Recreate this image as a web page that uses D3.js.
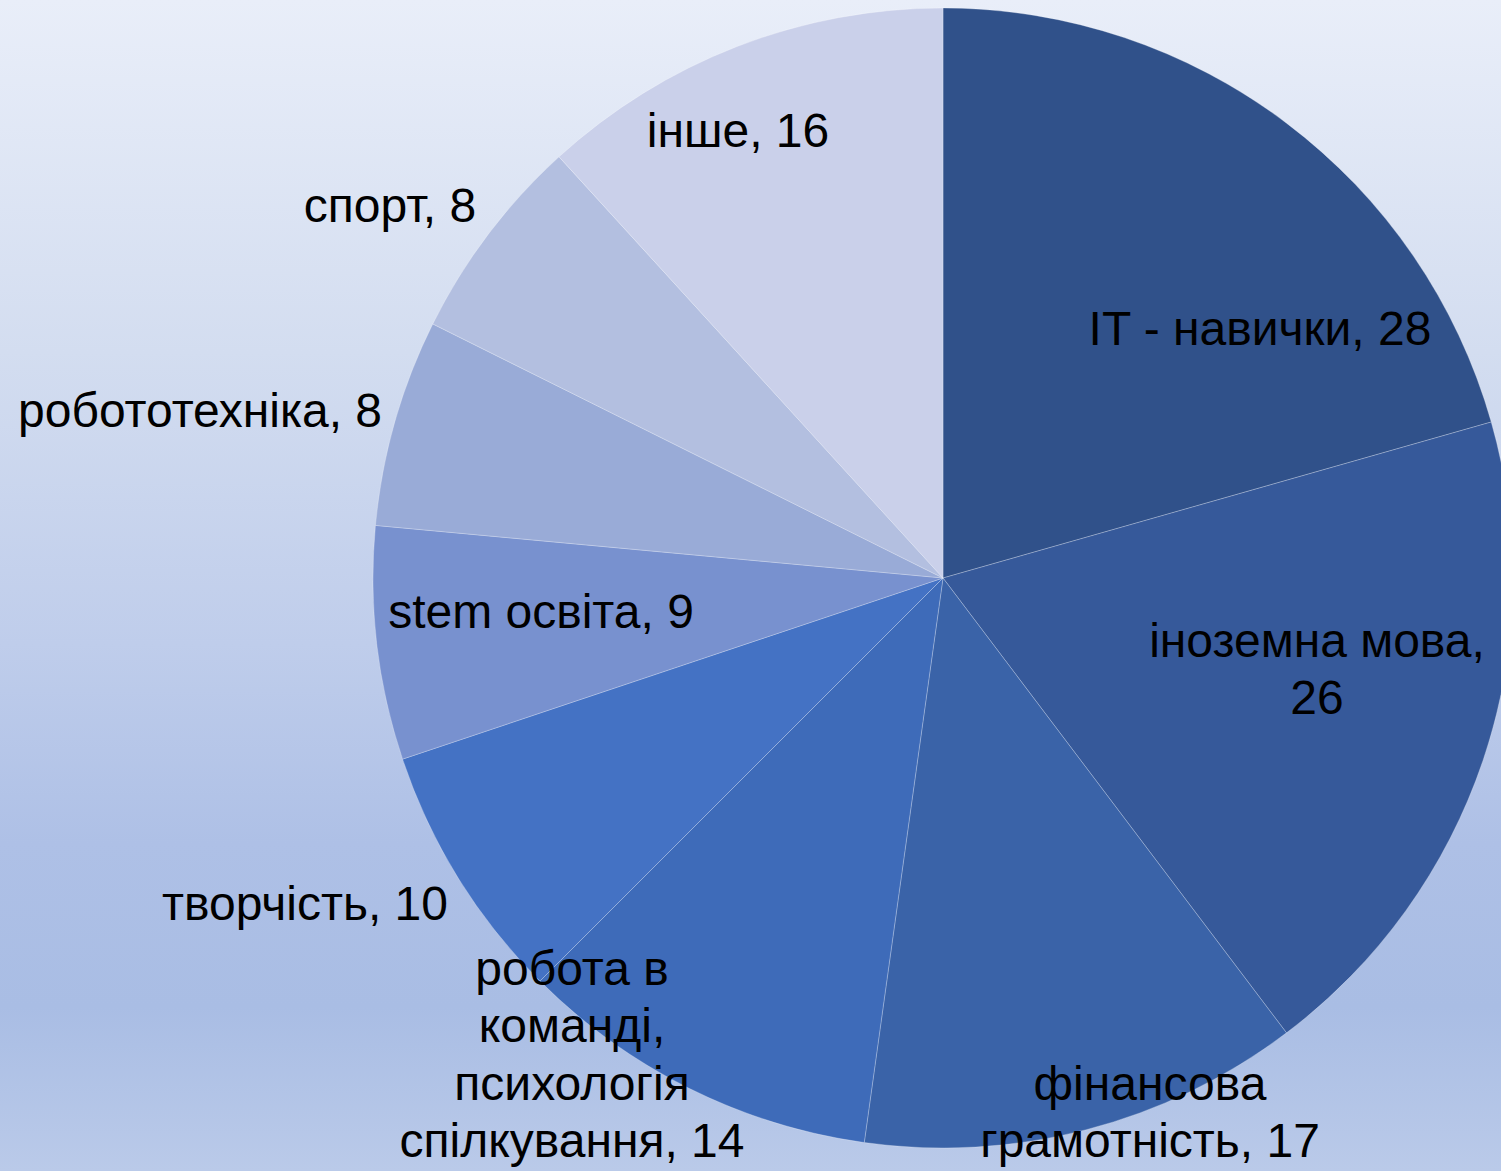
<!DOCTYPE html>
<html>
<head>
<meta charset="utf-8">
<script src="https://cdn.jsdelivr.net/npm/d3@7"></script>
<style>
  html, body { margin: 0; padding: 0; overflow: hidden; }
  svg { display: block; }
</style>
</head>
<body>
<div id="chart"></div>
<script>
// ---- data ----
const categories = ["IT - навички", "іноземна мова", "фінансова грамотність", "робота в команді, психологія спілкування", "творчість", "stem освіта", "робототехніка", "спорт", "інше"];
const values = [28, 26, 17, 14, 10, 9, 8, 8, 16];
// label line breaks (as in the picture)
const labelLines = [
  ["IT - навички, 28"],
  ["іноземна мова,", "26"],
  ["фінансова", "грамотність, 17"],
  ["робота в", "команді,", "психологія", "спілкування, 14"],
  ["творчість, 10"],
  ["stem освіта, 9"],
  ["робототехніка, 8"],
  ["спорт, 8"],
  ["інше, 16"]
];

// ---- layout / style ----
const W = 1501, H = 1171;
const cx = 943, cy = 578, R = 570;
const colors = ["#30518a", "#36599a", "#3a63a8", "#3e6bb9", "#4472c4", "#7891cf", "#99abd7", "#b3bfe0", "#cad0ea"];
// label anchor: centre x, first baseline y (relative to pie centre)
const labelAnchor = [
  [317, -233], [374, 79], [207, 522], [-371, 407], [-638, 342],
  [-402, 50], [-743, -151], [-553, -356], [-205, -431]
];
const fontSize = 48, lineH = 57.3;

const svg = d3.select("#chart").append("svg")
  .attr("width", W).attr("height", H);

const defs = svg.append("defs");
const grad = defs.append("linearGradient").attr("id", "bg")
  .attr("x1", 0).attr("y1", 0).attr("x2", 0).attr("y2", 1);
[[0, "#e9eef9"], [0.3, "#d3ddf0"], [0.55, "#bfcdeb"], [0.72, "#aec0e6"], [0.86, "#a9bde4"], [1, "#bacae9"]]
  .forEach(([o, c]) => grad.append("stop").attr("offset", o).attr("stop-color", c));

svg.append("rect").attr("width", W).attr("height", H).attr("fill", "url(#bg)");

const pie = d3.pie().sort(null).value(d => d);
const arcs = pie(values);
const arc = d3.arc().innerRadius(0).outerRadius(R);

const g = svg.append("g").attr("transform", `translate(${cx},${cy})`);
g.selectAll("path.slice").data(arcs).enter().append("path")
  .attr("class", "slice")
  .attr("d", arc)
  .attr("fill", (d, i) => colors[i])
  .attr("stroke", "rgba(255,255,255,0.35)")
  .attr("stroke-width", 0.75);

const labels = g.selectAll("text.lbl").data(arcs).enter().append("text")
  .attr("class", "lbl")
  .attr("text-anchor", "middle")
  .attr("font-family", "Liberation Sans, Arial, sans-serif")
  .attr("font-size", fontSize)
  .attr("fill", "#000")
  .attr("x", (d, i) => labelAnchor[i][0])
  .attr("y", (d, i) => labelAnchor[i][1]);

labels.each(function (d, i) {
  const t = d3.select(this);
  labelLines[i].forEach((line, k) => {
    t.append("tspan")
      .attr("x", labelAnchor[i][0])
      .attr("y", labelAnchor[i][1] + k * lineH)
      .text(line);
  });
});
</script>
</body>
</html>
